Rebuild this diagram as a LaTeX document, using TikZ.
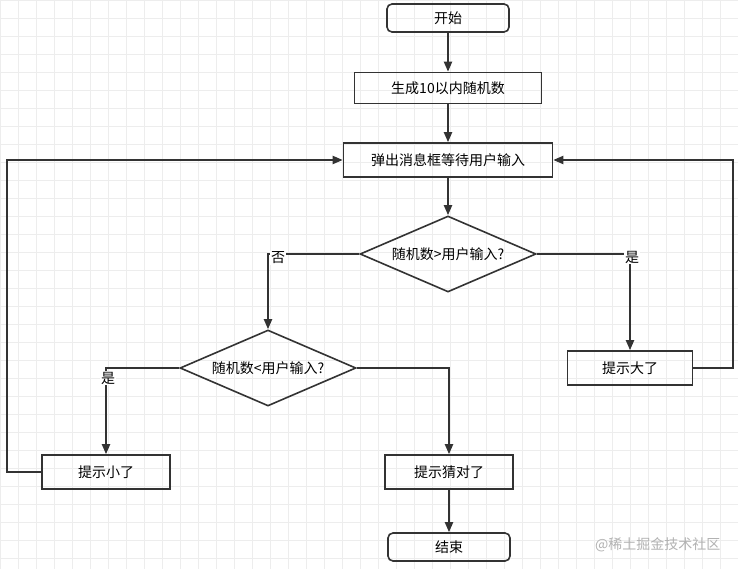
\documentclass[tikz,border=0pt]{standalone}
\usepackage{fontspec}
\setmainfont{Noto Sans CJK SC}
\usetikzlibrary{shapes.geometric,arrows.meta}
\begin{document}
\begin{tikzpicture}[x=1pt,y=-1pt,
  box/.style={draw=black!80,line width=1.6pt,minimum height=32pt,inner sep=0pt,font=\fontsize{14}{16}\selectfont},
  term/.style={box,rounded corners=5pt,minimum width=122pt,minimum height=28pt},
  dia/.style={draw=black!80,line width=1.6pt,diamond,aspect=2.3,minimum width=176pt,minimum height=76pt,inner sep=0pt,font=\fontsize{14}{16}\selectfont},
  arr/.style={draw=black!80,line width=2pt,-{Triangle[length=10pt,width=8pt]}},
  lab/.style={fill=white,inner sep=1pt,font=\fontsize{14}{16}\selectfont}]
\useasboundingbox (0,0) rectangle (738,569);
\fill[white] (0,0) rectangle (738,569);
\draw[black!7,line width=0.6pt,step=18pt] (0,0) grid (738,569);
\node[term] (start) at (448,18) {开始};
\node[box,minimum width=187pt,minimum height=31pt] (gen) at (448,88) {生成10以内随机数};
\node[box,minimum width=209pt,minimum height=34pt] (ask) at (448,160) {弹出消息框等待用户输入};
\node[dia] (d1) at (448,254) {随机数>用户输入?};
\node[box,minimum width=125pt,minimum height=34pt] (big) at (630,368) {提示大了};
\node[dia] (d2) at (268,368) {随机数<用户输入?};
\node[box,minimum width=128pt,minimum height=34pt] (small) at (106,472) {提示小了};
\node[box,minimum width=128pt,minimum height=34pt] (ok) at (449,472) {提示猜对了};
\node[term] (end) at (449,547) {结束};
\draw[arr] (start) -- (gen);
\draw[arr] (gen) -- (ask);
\draw[arr] (ask) -- (d1);
\draw[arr] (d1.west) -| (d2.north);
\node[lab] at (278,258) {否};
\draw[arr] (d1.east) -| (big.north);
\node[lab] at (632,257) {是};
\draw[arr] (big.east) -- ++(40,0) |- (ask.east);
\draw[arr] (d2.west) -| (small.north);
\node[lab] at (108,378) {是};
\draw[arr] (d2.east) -| (ok.north);
\draw[arr] (small.west) -- ++(-34,0) |- (ask.west);
\draw[arr] (ok) -- (end);
\node[text=white!70!black,font=\fontsize{14}{16}\selectfont,anchor=east] at (724,545) {@稀土掘金技术社区};
\end{tikzpicture}
\end{document}
